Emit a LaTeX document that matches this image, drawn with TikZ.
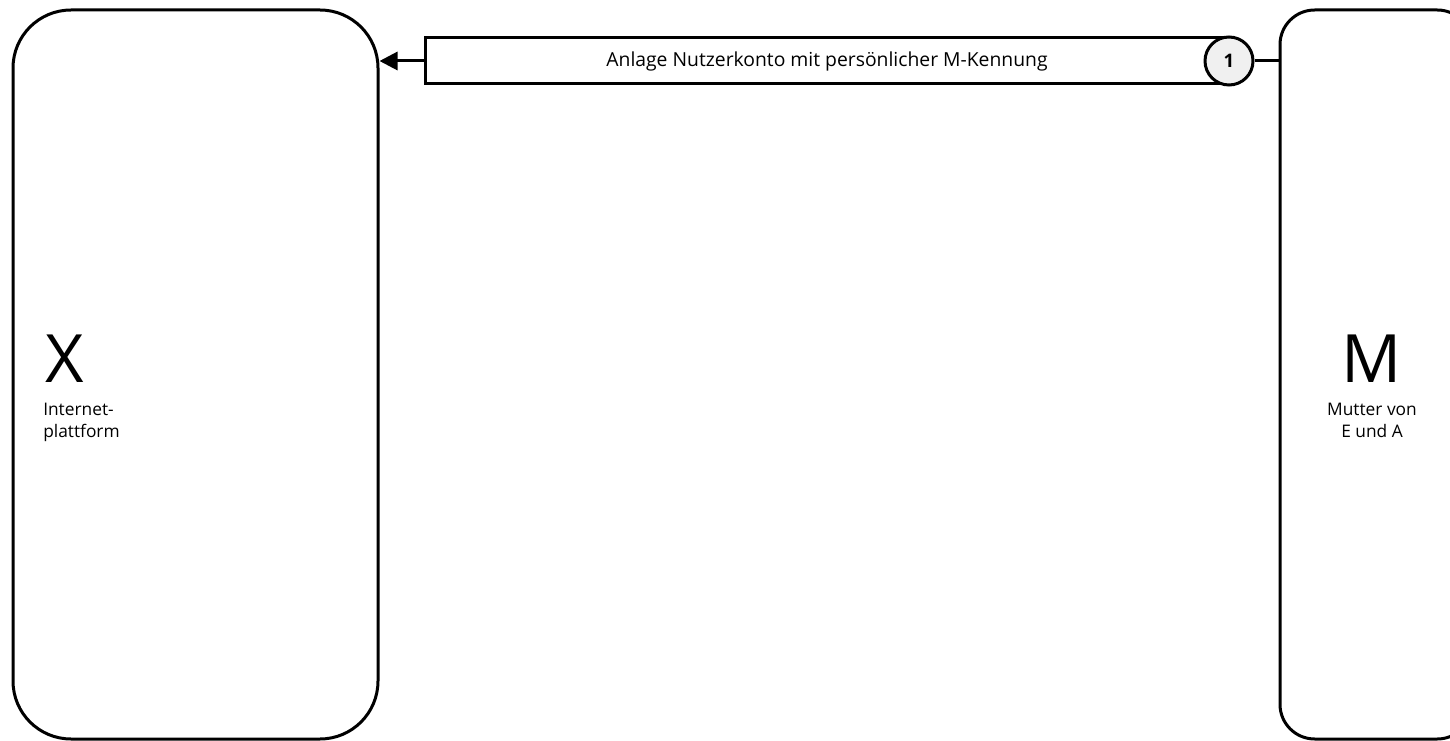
\documentclass[tikz,border=0pt]{standalone}
\usepackage{fontspec}
\setmainfont{Open Sans}
\usetikzlibrary{arrows.meta}
\tikzset{
  party/.style={draw=black, line width=2.25pt, inner sep=0pt, fill=white},
  labelbox/.style={draw=black, line width=2.25pt, inner sep=0pt, fill=white,
    minimum width=603pt, minimum height=34.5pt, font=\fontsize{14.5}{17}\selectfont},
  stepcircle/.style={circle, draw=black, line width=2.25pt, fill=black!6,
    minimum size=36pt, inner sep=0pt, font=\fontsize{14}{16}\selectfont\bfseries},
  bigletter/.style={inner sep=0pt, font=\fontsize{50}{60}\selectfont},
  smalltext/.style={inner sep=0pt, font=\fontsize{13}{16.5}\selectfont},
  conn/.style={line width=2.25pt, draw=black}
}
\begin{document}
\begin{tikzpicture}[x=0.75pt,y=-0.75pt]
\useasboundingbox (0,0) rectangle (1450,741);
\clip (0,0) rectangle (1450,741);
\fill[white] (0,0) rectangle (1450,741);
% parties
\node[party, rounded corners=43.5pt, minimum width=273.75pt, minimum height=546.75pt] (X) at (195.5,374.5) {};
\node[party, rounded corners=26pt, minimum width=144pt, minimum height=546.75pt] (M) at (1376,374.5) {};
% texts in boxes
\node[bigletter, anchor=base] (Xl) at (65,383) {X};
\node[smalltext, anchor=north west, align=left] (Xt) at (43,403) {Internet-\\plattform};
\node[bigletter, anchor=base] (Ml) at (1372,383) {M};
\node[smalltext, anchor=north, align=center] (Mt) at (1372,403) {Mutter von\\E und A};
% message
\node[labelbox] (L) at (827,61) {Anlage Nutzerkonto mit persönlicher M-Kennung};
\node[stepcircle] (c1) at (1229,61) {1};
\draw[conn, -{Triangle[length=13.5pt,width=13.5pt]}] (L.west) -- (L.west -| X.east);
\draw[conn] (c1.east) -- (c1.east -| M.west);
\end{tikzpicture}
\end{document}
